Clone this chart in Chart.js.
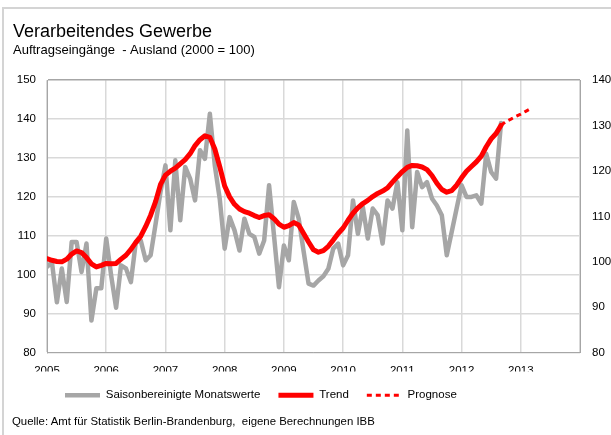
<!DOCTYPE html>
<html>
<head>
<meta charset="utf-8">
<script src="https://cdn.jsdelivr.net/npm/chart.js@4"></script>
<style>
    body { margin: 0; background: #fff; }
    #wrap { position: relative; width: 611px; height: 435px; overflow: hidden; }
    #frame { position: absolute; left: 2px; top: 7px; width: 700px; height: 500px; border-left: 2px solid #d4d4d4; border-top: 2px solid #d4d4d4; }
    #chart { position: absolute; left: 0; top: 0; }
    #source { position: absolute; left: 12px; top: 414px; font: 11.4px "Liberation Sans", Arial, sans-serif; line-height: 14px; color: #000; white-space: pre; }
</style>
</head>
<body>
<div id="wrap">
    <div id="frame"></div>
    <canvas id="chart" width="611" height="435"></canvas>
    <div id="source">Quelle: Amt für Statistik Berlin-Brandenburg,  eigene Berechnungen IBB</div>
</div>
<script>
Chart.defaults.font.family = '"Liberation Sans", Arial, sans-serif';
Chart.defaults.font.size = 11.5;
Chart.defaults.color = "#000";

// monthly values, first month = Jan 2005
const startYear = 2005;
const yearLabels = [2005, 2006, 2007, 2008, 2009, 2010, 2011, 2012, 2013];
const monatswerte = [
    102, 103.2, 92.9, 101.6, 93, 108.4, 108.4, 100.7, 108, 88.2, 96.5, 96.5,
    109.3, 99.8, 91.5, 102.4, 101.6, 98.1, 108.4, 108.8, 103.7, 105, 113, 121.3,
    128.1, 111.4, 129.4, 114, 127.7, 124.7, 119.1, 132, 129.8, 141.4, 128.1, 119.5,
    106.7, 114.8, 111.4, 106.2, 114.4, 110.5, 109.7, 105.4, 108.8, 123, 110, 96.8,
    107.5, 103.7, 118.7, 114.4, 106, 97.7, 97.2, 98.5, 99.6, 101.5, 106.7, 108,
    102.4, 105, 119.1, 110.5, 117.4, 109.3, 117, 115.3, 108, 119.1, 117, 123.8,
    111.4, 137.1, 112.2, 126.4, 122.5, 123.8, 119.6, 117.8, 115.3, 105, 111, 117,
    123, 120, 120, 120.4, 118.3, 131.1, 126.4, 124.7, 139
];
const trend = [
    104.1, 103.7, 103.4, 103.3, 104, 105.3, 106.1, 105.7, 104.4, 102.8, 102, 102.4,
    102.9, 102.8, 102.9, 104, 105, 106.5, 108.3, 109.9, 112.4, 115.3, 118.8, 123.2,
    125.6, 126.6, 127.4, 128.5, 129.6, 131.1, 133.2, 134.7, 135.7, 135.3, 132.3, 127.8,
    122.8, 120, 118.1, 116.9, 116.2, 115.8, 115.2, 114.7, 115.2, 115.4, 114.4, 113,
    112.2, 112.6, 113.4, 112.8, 110.6, 108.4, 106.4, 105.8, 106.2, 107.3, 108.9, 110.6,
    112, 114, 115.8, 117.2, 118.3, 119.1, 120.1, 120.9, 121.5, 122.3, 123.8, 125.2,
    126.5, 127.6, 128.1, 128, 127.7, 127, 125.5, 123.5, 121.9, 121.2, 121.6, 123,
    124.9, 126.6, 127.8, 129, 130.5, 132.9, 134.9, 136.3, 138.4
];
const prognoseStart = 92;
const prognose = [138.4, 139.4, 140, 140.7, 141.3, 142, 142.7];

function toPoints(values, offset) {
    let points = [];
    for (let i = 0; i < values.length; i++) {
        points.push({ x: startYear + (offset + i) / 12, y: values[i] });
    }
    return points;
}

// legend uses point style, so take dash and width from the dataset itself
function legendLabels(chart) {
    let items = Chart.defaults.plugins.legend.labels.generateLabels(chart);
    for (let item of items) {
        let ds = chart.data.datasets[item.datasetIndex];
        item.lineDash = ds.borderDash || [];
        item.lineWidth = ds.borderWidth;
        item.lineCap = "butt";
    }
    return items;
}

new Chart(document.getElementById("chart"), {
    type: "line",
    data: {
        datasets: [
            {
                label: "Saisonbereinigte Monatswerte",
                data: toPoints(monatswerte, 0),
                borderColor: "#a6a6a6",
                backgroundColor: "#a6a6a6",
                borderWidth: 4.5,
                order: 2,
            },
            {
                label: "Trend",
                data: toPoints(trend, 0),
                borderColor: "#ff0000",
                backgroundColor: "#ff0000",
                borderWidth: 5,
                order: 1,
            },
            {
                label: "Prognose",
                data: toPoints(prognose, prognoseStart),
                borderColor: "#ff0000",
                backgroundColor: "#ff0000",
                borderWidth: 3,
                borderDash: [5, 4],
                borderCapStyle: "butt",
                order: 0,
            },
        ],
    },
    options: {
        responsive: false,
        animation: false,
        layout: { padding: { left: 13, top: 8, right: 0, bottom: 24 } },
        elements: {
            point: { radius: 0 },
            line: { tension: 0, borderJoinStyle: "round", borderCapStyle: "round" },
        },
        plugins: {
            title: {
                display: true,
                text: "Verarbeitendes Gewerbe",
                align: "start",
                color: "#000",
                font: { size: 18, weight: "normal" },
                padding: { top: 13, bottom: 0 },
            },
            subtitle: {
                display: true,
                text: "Auftragseingänge  - Ausland (2000 = 100)",
                align: "start",
                color: "#000",
                font: { size: 13 },
                padding: { top: 0, bottom: 22 },
            },
            legend: {
                position: "bottom",
                align: "start",
                fullSize: false,
                labels: {
                    usePointStyle: true,
                    pointStyle: "line",
                    pointStyleWidth: 35,
                    padding: 18,
                    color: "#000",
                    generateLabels: legendLabels,
                    sort: (a, b) => a.datasetIndex - b.datasetIndex,
                },
            },
            tooltip: { enabled: false },
        },
        scales: {
            x: {
                type: "linear",
                min: 2005,
                max: 2014,
                grid: { color: "#d9d9d9", lineWidth: 1.5, drawTicks: false },
                border: { color: "#a6a6a6" },
                ticks: {
                    stepSize: 1,
                    padding: 11,
                    maxRotation: 0,
                    autoSkip: false,
                    callback: (v) => (yearLabels.indexOf(v) > -1 ? String(v) : ""),
                },
                afterFit: (s) => { s.height = 19; },
            },
            y: {
                position: "left",
                min: 80,
                max: 150,
                ticks: { stepSize: 10, padding: 11 },
                grid: {
                    color: (c) => (c.tick && c.tick.value === 150 ? "#a6a6a6" : "#d9d9d9"),
                    lineWidth: 1.5,
                    drawTicks: false,
                },
                border: { color: "#a6a6a6" },
                afterFit: (s) => { s.width = 34; },
            },
            y2: {
                position: "right",
                min: 80,
                max: 140,
                ticks: { stepSize: 10, padding: 12 },
                grid: { display: false, drawTicks: false },
                border: { color: "#a6a6a6" },
                afterFit: (s) => { s.width = 31; },
            },
        },
    },
});
</script>
</body>
</html>
